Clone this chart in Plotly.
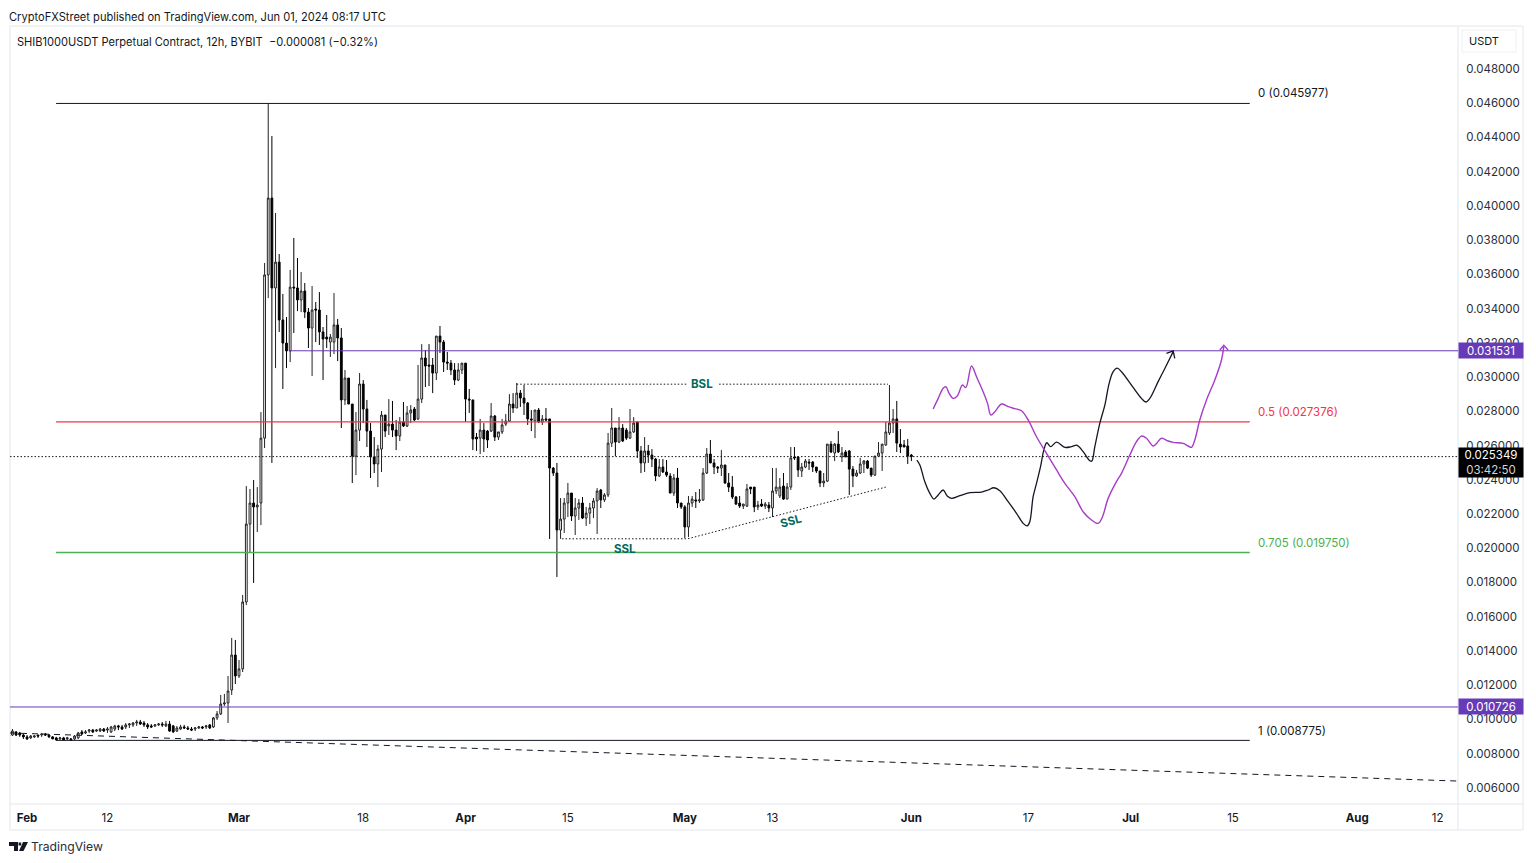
import pandas as pd
import plotly.graph_objects as go

# prices below are in units of 0.00001 USDT, candles every 12h
opens = [909,909,927,921,909,898,892,898,909,909,
915,909,898,892,886,892,886,886,886,892,
927,921,932,938,932,932,944,938,927,944,
962,956,956,968,968,979,985,979,968,962,
962,968,973,962,973,962,932,944,956,950,
944,944,950,956,956,968,956,1009,1032,1090,
1096,1172,1376,1254,1295,1686,2141,2264,2241,2264,
2643,3596,4045,3520,3671,3333,3198,3152,3525,3520,
3450,3502,3379,3286,3397,3391,3263,3233,3204,3204,
3304,3228,2866,2994,2842,2538,2690,2959,2813,2684,
2533,2492,2579,2778,2714,2725,2690,2655,2737,2714,
2790,2813,2755,2871,3111,3070,3070,3023,3239,3204,
3087,3081,3041,2982,3041,3081,2871,2866,2649,2643,
2690,2684,2684,2772,2649,2679,2725,2743,2842,2819,
2906,2877,2848,2755,2743,2807,2737,2755,2755,2468,
2439,2106,2170,2264,2322,2188,2235,2264,2176,2205,
2235,2276,2340,2282,2311,2614,2702,2620,2702,2690,
2643,2679,2737,2568,2498,2568,2544,2521,2422,2474,
2445,2422,2322,2410,2264,2241,2124,2264,2282,2276,
2282,2439,2550,2498,2474,2468,2486,2381,2357,2299,
2264,2246,2246,2357,2357,2241,2258,2246,2252,2235,
2334,2305,2363,2287,2357,2533,2533,2451,2474,2503,
2503,2474,2451,2381,2392,2608,2556,2608,2533,2562,
2568,2462,2422,2439,2492,2509,2468,2427,2538,2556,
2603,2673,2731,2755,2608,2603,2597,2544]
highs = [915,944,932,927,915,909,909,909,909,921,
921,915,903,898,898,898,898,892,909,927,
938,938,944,944,944,950,950,956,962,968,
968,968,979,979,985,997,997,991,979,973,
973,979,985,991,991,968,962,968,968,962,
956,956,962,962,968,973,1014,1049,1143,1149,
1254,1476,1464,1347,1727,2363,2346,2398,2357,2795,
3666,4600,4407,3958,3718,3485,3350,3625,3812,3695,
3613,3549,3403,3531,3438,3496,3292,3362,3251,3490,
3339,3286,3041,2994,2842,2795,3023,2982,2866,2731,
2649,2603,2801,2778,2871,2860,2749,2766,2854,2830,
2836,2825,3070,3192,3158,3192,3111,3239,3298,3216,
3146,3099,3081,3081,3081,3081,2930,2866,2673,2755,
2731,2690,2848,2778,2679,2755,2784,2900,2906,2965,
2924,2953,2854,2807,2807,2819,2778,2819,2755,2474,
2498,2293,2293,2381,2322,2293,2287,2299,2241,2264,
2293,2351,2346,2322,2673,2819,2702,2766,2725,2702,
2813,2766,2737,2597,2649,2603,2579,2527,2521,2521,
2515,2439,2433,2468,2264,2252,2305,2305,2328,2346,
2468,2585,2632,2521,2480,2573,2486,2439,2422,2305,
2305,2258,2375,2357,2357,2276,2287,2270,2270,2468,
2468,2410,2439,2381,2591,2591,2538,2498,2521,2521,
2509,2474,2451,2439,2608,2626,2614,2684,2591,2573,
2573,2480,2457,2527,2515,2515,2468,2538,2620,2608,
2737,2953,2813,2860,2696,2632,2638,2550]
lows = [898,903,903,898,886,880,886,892,892,898,
903,892,886,880,880,880,880,880,880,886,
909,915,921,921,927,927,927,921,921,932,
938,938,944,950,956,962,968,956,944,950,
956,962,956,956,927,921,927,938,944,938,
932,932,944,944,944,944,950,997,1026,1079,
979,1143,1207,1242,1277,1668,1972,1797,2095,2135,
2585,3461,2498,3052,3263,2930,3052,3087,3257,3385,
3379,3344,3169,3006,3204,3187,2982,3169,3117,3134,
3093,2702,2836,2842,2381,2427,2626,2731,2591,2410,
2439,2357,2445,2649,2661,2649,2573,2626,2708,2708,
2731,2743,2749,2848,2941,2947,2906,2982,3140,3029,
3041,3011,2953,2976,3017,2737,2790,2573,2568,2550,
2562,2585,2679,2626,2632,2667,2714,2737,2790,2819,
2825,2778,2720,2684,2643,2731,2720,2743,2054,2422,
1832,2054,2089,2182,2159,2077,2165,2170,2130,2141,
2176,2083,2235,2270,2299,2591,2538,2614,2620,2632,
2638,2673,2527,2439,2445,2498,2474,2392,2416,2439,
2416,2322,2305,2235,2229,2060,2065,2241,2235,2264,
2276,2433,2498,2433,2439,2422,2375,2328,2287,2252,
2235,2229,2241,2316,2211,2223,2241,2229,2211,2182,
2316,2293,2282,2287,2340,2515,2416,2416,2468,2457,
2445,2439,2357,2357,2386,2556,2509,2556,2503,2533,
2311,2357,2416,2433,2439,2462,2416,2422,2533,2451,
2597,2661,2673,2562,2556,2591,2492,2509]
closes = [903,932,909,909,898,886,903,903,903,915,
909,898,886,880,892,880,892,880,903,921,
915,927,938,927,938,944,932,944,956,962,
956,944,968,973,979,985,973,968,956,956,
968,973,968,973,932,927,950,956,950,944,
938,950,956,950,962,950,1009,1032,1090,1096,
1166,1376,1254,1295,1686,2141,2264,2241,2252,2643,
3596,4045,3520,3671,3333,3198,3152,3525,3520,3450,
3502,3379,3286,3391,3391,3263,3222,3222,3233,3304,
3228,2866,2994,2842,2538,2690,2959,2813,2684,2533,
2492,2579,2778,2684,2725,2690,2655,2737,2714,2790,
2807,2749,2871,3111,3064,3064,3023,3239,3204,3087,
3081,3041,2982,3041,3081,2871,2866,2638,2638,2690,
2638,2632,2772,2649,2679,2720,2743,2842,2819,2906,
2877,2848,2755,2749,2807,2737,2755,2749,2468,2439,
2106,2170,2264,2322,2188,2235,2264,2176,2205,2235,
2276,2334,2282,2311,2614,2702,2620,2702,2626,2643,
2679,2731,2568,2498,2568,2544,2521,2422,2474,2445,
2427,2322,2410,2264,2241,2124,2264,2287,2276,2282,
2439,2550,2498,2474,2468,2486,2381,2357,2299,2258,
2246,2258,2346,2346,2241,2252,2246,2258,2235,2334,
2357,2357,2287,2357,2527,2527,2457,2474,2509,2498,
2474,2451,2381,2392,2608,2562,2608,2562,2556,2533,
2462,2422,2439,2492,2509,2468,2427,2538,2556,2608,
2679,2731,2755,2614,2591,2591,2538,2535]

# drawn projections, x is days after Feb 1
purple_days = [123.98,124.67,125.35,125.72,126.17,126.72,127.27,128.0,128.45,129.23,129.91,130.82,131.42,131.87,132.42,133.33,134.24,135.16,136.07,136.98,138.12,139.49,140.86,142.0,143.36,144.5,145.64,146.56,147.15,147.92,149.06,149.75,150.89,151.8,152.48,153.17,154.08,154.54,155.22,156.13,156.82,158.18,158.87,159.32,159.78,160.46,161.38,162.52,163.43,163.75]
purple_prices = [2813,2875,2934,2943,2904,2875,2889,2953,2938,3064,3002,2914,2846,2778,2797,2842,2827,2815,2803,2749,2651,2554,2457,2379,2301,2213,2165,2145,2184,2291,2389,2437,2544,2622,2655,2642,2597,2612,2642,2626,2618,2612,2597,2589,2632,2749,2866,2982,3099,3177]
purple_head_days = [163.2,163.75,164.34]
purple_head_prices = [3158,3185,3158]
black_days = [121.75,122.16,122.84,123.53,124.08,124.67,125.35,125.9,126.49,127.63,129.0,130.6,131.51,132.28,133.1,134.24,135.38,136.3,136.84,137.2,137.66,138.12,138.67,139.12,139.53,140.04,140.86,142.0,142.9,143.68,144.5,145.42,145.69,146.1,146.78,147.47,148.06,148.61,149.15,149.75,151.34,152.48,153.08,153.62,154.76,155.68,156.82]
black_prices = [2515,2486,2388,2320,2287,2311,2340,2305,2291,2307,2324,2328,2340,2353,2336,2272,2204,2145,2130,2155,2301,2379,2476,2573,2616,2593,2620,2589,2593,2601,2564,2511,2509,2593,2729,2836,2963,3031,3052,3031,2939,2875,2854,2875,2973,3050,3148]
black_head_days = [155.9,156.82,157.04]
black_head_prices = [3138,3152,3109]

# fib levels and horizontals
fib_names = ["0", "0.5", "0.705", "1"]
fib_levels = [0.045977, 0.027376, 0.01975, 0.008775]
fib_colors = ["#131722", "#f23645", "#4caf50", "#131722"]
fib_widths = [1, 1.3, 1.3, 1]
fib_shifts = [10, 10, 9, 9]
fib_days = [3.97, 167.3]
label_day = 168.1
liq_top = 0.031531
liq_bottom = 0.010726
last_price = 0.025349

# dotted liquidity lines: days, prices
bsl_days = [67.0, 90.3, None, 94.7, 117.8]
bsl_prices = [0.02958, 0.02958, None, 0.02958, 0.02958]
ssl_days = [73.2, 90.4, 117.5]
ssl_prices = [0.02055, 0.02055, 0.02357]
trend_days = [-2.33, 195.8]
trend_prices = [0.00921, 0.0064]

price_ticks = [0.006 + 0.002 * i for i in range(22)]
time_ticks = ["2024-02-01", "2024-02-12", "2024-03-01", "2024-03-18", "2024-04-01", "2024-04-15", "2024-05-01",
              "2024-05-13", "2024-06-01", "2024-06-17", "2024-07-01", "2024-07-15", "2024-08-01", "2024-08-12"]
time_labels = ["<b>Feb</b>", "12", "<b>Mar</b>", "18", "<b>Apr</b>", "15", "<b>May</b>", "13", "<b>Jun</b>", "17",
               "<b>Jul</b>", "15", "<b>Aug</b>", "12"]

FONT = "Inter"
INK = "#131722"
FRAME = "#e4e6ec"
TEAL = "#00695c"
PURPLE = "#673ab7"
CURVE = "#a63cc8"
start = pd.Timestamp("2024-02-01")


def day(d):
    return [None if v is None else start + pd.Timedelta(days=v) for v in d]


def units(v):
    return [p * 1e-5 for p in v]


def px(x):
    return (x - 10) / 1448


def py(y):
    return 1 - (y - 26) / 778


dates = pd.date_range("2024-01-29 12:00", periods=len(closes), freq="12h")

fig = go.Figure()
fig.add_trace(go.Candlestick(x=dates, open=units(opens), high=units(highs), low=units(lows), close=units(closes),
                             increasing=dict(line=dict(color="#222", width=1), fillcolor="#ffffff"),
                             decreasing=dict(line=dict(color="#000", width=1), fillcolor="#000000"),
                             whiskerwidth=0))


def line(xs, ys, color, width=1, dash=None, shape="linear"):
    fig.add_trace(go.Scatter(x=xs, y=ys, mode="lines", connectgaps=False,
                             line=dict(color=color, width=width, dash=dash, shape=shape)))


for level, color, w in zip(fib_levels, fib_colors, fib_widths):
    line(day(fib_days), [level, level], color, width=w)
line(day([36.0, 195.8]), [liq_top, liq_top], PURPLE)
line(day([-2.33, 195.8]), [liq_bottom, liq_bottom], PURPLE)
line(day([-2.33, 195.8]), [last_price, last_price], INK, dash="1.5px,2px")
line(day(trend_days), trend_prices, INK, dash="6px,5px")
line(day(bsl_days), bsl_prices, INK, dash="1.5px,2px")
line(day(ssl_days), ssl_prices, INK, dash="1.5px,2px")
line(day(black_days), units(black_prices), "#131722", width=1.3, shape="spline")
line(day(black_head_days), units(black_head_prices), "#131722", width=1.3)
line(day(purple_days), units(purple_prices), CURVE, width=1.4, shape="spline")
line(day(purple_head_days), units(purple_head_prices), CURVE, width=1.4)

ann = []
for name, level, color, shift in zip(fib_names, fib_levels, fib_colors, fib_shifts):
    ann.append(dict(x=day([label_day])[0], y=level, yshift=shift, xanchor="left", yanchor="middle",
                    text=f"{name} ({level:.6f})", font=dict(color=color, size=11.5), showarrow=False))
for x, y, angle, txt in [(92.3, 0.02958, 0, "BSL"), (81.8, 0.01995, 0, "SSL"), (104.5, 0.02159, -15, "SSL")]:
    ann.append(dict(x=day([x])[0], y=y, text=f"<b>{txt}</b>", textangle=angle, showarrow=False,
                    font=dict(color=TEAL, size=11.5)))
for y, color in [(liq_top, PURPLE), (liq_bottom, PURPLE)]:
    ann.append(dict(xref="paper", x=px(1458), y=y, xanchor="left", width=64, height=15, bgcolor=color, borderpad=0,
                    text=f"{y:.6f}", font=dict(color="white", size=11.5), showarrow=False))
ann.append(dict(xref="paper", x=px(1458), y=last_price, yshift=-6, xanchor="left", width=64, height=29, bgcolor="#000000",
                borderpad=0, text=f"{last_price:.6f}<br><span style='color:#d5d5d5'>03:42:50</span>",
                font=dict(color="white", size=11.5), showarrow=False))
for x, y, txt, size, color in [
    (7, 17, "CryptoFXStreet published on TradingView.com, Jun 01, 2024 08:17 UTC", 11.1, INK),
    (15, 42, "SHIB1000USDT Perpetual Contract, 12h, BYBIT&#160;&#160;−0.000081 (−0.32%)", 11.1, INK),
    (29, 846, "TradingView", 12.2, "#2a2e39"),
    (1467, 41, "USDT", 11, INK),
]:
    ann.append(dict(xref="paper", yref="paper", x=px(x), y=py(y), xanchor="left", yanchor="middle", text=txt,
                    font=dict(color=color, size=size), showarrow=False))

shapes = []
for x0, y0, x1, y1 in [(10, 26, 1523, 26), (10, 26, 10, 830), (1523, 26, 1523, 830), (10, 830, 1523, 830),
                       (10, 804, 1523, 804), (1458, 26, 1458, 830)]:
    shapes.append(dict(type="line", xref="paper", yref="paper", x0=px(x0), y0=py(y0), x1=px(x1), y1=py(y1),
                       line=dict(color=FRAME, width=1), layer="below"))
shapes.append(dict(type="rect", xref="paper", yref="paper", x0=px(1462), y0=py(30), x1=px(1516), y1=py(52),
                   line=dict(color="#eef0f3", width=1), layer="below"))


def logo_path(points):
    return "M" + " L".join(f"{px(a):.5f},{py(b):.5f}" for a, b in points) + " Z"


for pts in [[(9, 842), (18, 842), (18, 851), (14, 851), (14, 846), (9, 846)],
            [(23, 842), (28, 842), (23.5, 851), (19, 851)],
            [(18.6, 842.5), (21.2, 842.5), (21.2, 845.5), (18.6, 845.5)]]:
    shapes.append(dict(type="path", xref="paper", yref="paper", path=logo_path(pts),
                       fillcolor="#131722", line=dict(width=0)))

fig.update_layout(
    width=1536, height=863, autosize=False, showlegend=False, hovermode=False,
    margin=dict(l=10, r=78, t=26, b=59),
    paper_bgcolor="white", plot_bgcolor="white",
    font=dict(family=FONT, color=INK, size=11.5),
    annotations=ann, shapes=shapes,
    xaxis=dict(type="date", range=["2024-01-29 16:00", "2024-08-14 19:00"], showgrid=False, zeroline=False,
               rangeslider=dict(visible=False), tickmode="array", tickvals=time_ticks, ticktext=time_labels,
               ticks="outside", ticklen=3, tickcolor="rgba(0,0,0,0)", showline=False,
               tickfont=dict(size=11.5, color=INK)),
    yaxis=dict(side="right", range=[0.00506, 0.0505], showgrid=False, zeroline=False, tickmode="array",
               tickvals=price_ticks, tickformat=".6f", ticks="outside", ticklen=5, tickcolor="rgba(0,0,0,0)",
               showline=False, tickfont=dict(size=11.5, color="#2a2e39")),
)

fig.write_html("out.html", config=dict(displayModeBar=False),
               post_script="document.body.style.margin='0';document.body.style.overflow='hidden';")
